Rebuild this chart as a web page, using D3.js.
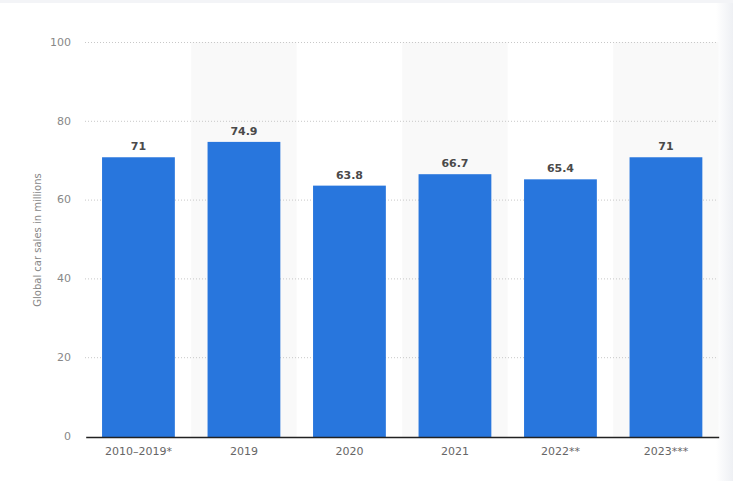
<!DOCTYPE html>
<html>
<head>
<meta charset="utf-8">
<script src="https://cdn.jsdelivr.net/npm/d3@7"></script>
<style>
  body { margin: 0; background: #fff; }
  svg { display: block; font-family: "DejaVu Sans", sans-serif; }
</style>
</head>
<body>
<svg id="chart"></svg>
<script>
const categories = ["2010–2019*", "2019", "2020", "2021", "2022**", "2023***"];
const sales = [71, 74.9, 63.8, 66.7, 65.4, 71];
const yTicks = [0, 20, 40, 60, 80, 100];

const W = 733, H = 481;
const margin = { top: 43, right: 15, bottom: 44, left: 85 };
const width = W - margin.left - margin.right;
const height = H - margin.top - margin.bottom;

const svg = d3.select("#chart").attr("width", W).attr("height", H);

// page frame: grey strip on top, soft shade on the right
const defs = svg.append("defs");
const grad = defs.append("linearGradient").attr("id", "rightShade")
  .attr("x1", "0").attr("x2", "1").attr("y1", "0").attr("y2", "0");
grad.append("stop").attr("offset", "0").attr("stop-color", "#fff");
grad.append("stop").attr("offset", "1").attr("stop-color", "#eef0f4");
svg.append("rect").attr("x", 0).attr("y", 0).attr("width", W).attr("height", 3).attr("fill", "#f3f4f7");
svg.append("rect").attr("x", 716).attr("y", 3).attr("width", 17).attr("height", H - 3).attr("fill", "url(#rightShade)");

const g = svg.append("g").attr("transform", `translate(${margin.left},${margin.top})`);

const x = d3.scaleBand().domain(categories).range([0.7, width + 0.7]).paddingInner(0.31).paddingOuter(0.155);
const y = d3.scaleLinear().domain([0, 100]).range([height, 0]);

// alternating band shading
const step = x.step();
g.selectAll("rect.band")
  .data(categories.filter((d, i) => i % 2 === 1))
  .enter().append("rect")
  .attr("class", "band")
  .attr("x", d => x(d) - x.paddingInner() * step / 2)
  .attr("y", -1)
  .attr("width", step)
  .attr("height", height + 1)
  .attr("fill", "#f9f9f9");

// gridlines
g.selectAll("line.grid")
  .data(yTicks.filter(t => t > 0))
  .enter().append("line")
  .attr("class", "grid")
  .attr("x1", 0).attr("x2", width)
  .attr("y1", d => y(d) - 0.5).attr("y2", d => y(d) - 0.5)
  .attr("stroke", "#c8c8c8")
  .attr("stroke-dasharray", "1,2");

// y axis labels
const yAxis = g.append("g")
  .call(d3.axisLeft(y).tickValues(yTicks).tickSize(0).tickPadding(14));
yAxis.select(".domain").remove();
yAxis.selectAll("text").attr("fill", "#888").attr("dy", "0.2em").style("font-size", "11px")
  .style("font-family", "DejaVu Sans, sans-serif");

// bars
g.selectAll("rect.bar")
  .data(sales)
  .enter().append("rect")
  .attr("class", "bar")
  .attr("x", (d, i) => x(categories[i]))
  .attr("y", d => y(d))
  .attr("width", x.bandwidth())
  .attr("height", d => height - y(d))
  .attr("fill", "#2876dd");

// value labels
g.selectAll("text.val")
  .data(sales)
  .enter().append("text")
  .attr("class", "val")
  .attr("x", (d, i) => x(categories[i]) + x.bandwidth() / 2)
  .attr("y", d => y(d) - 7)
  .attr("text-anchor", "middle")
  .attr("fill", "#4a4a4a")
  .style("font-size", "11px")
  .style("font-weight", "bold")
  .text(d => d);

// x axis
const xAxis = g.append("g")
  .attr("transform", `translate(0,${height})`)
  .call(d3.axisBottom(x).tickSize(0).tickPadding(10));
xAxis.select(".domain").attr("stroke", "#222").attr("stroke-width", 1.5);
xAxis.selectAll("text").attr("fill", "#666").style("font-size", "11px")
  .style("font-family", "DejaVu Sans, sans-serif");

// y title
svg.append("text")
  .attr("transform", `translate(41,${margin.top + height / 2}) rotate(-90)`)
  .attr("text-anchor", "middle")
  .attr("fill", "#888")
  .style("font-size", "10px")
  .text("Global car sales in millions");
</script>
</body>
</html>
